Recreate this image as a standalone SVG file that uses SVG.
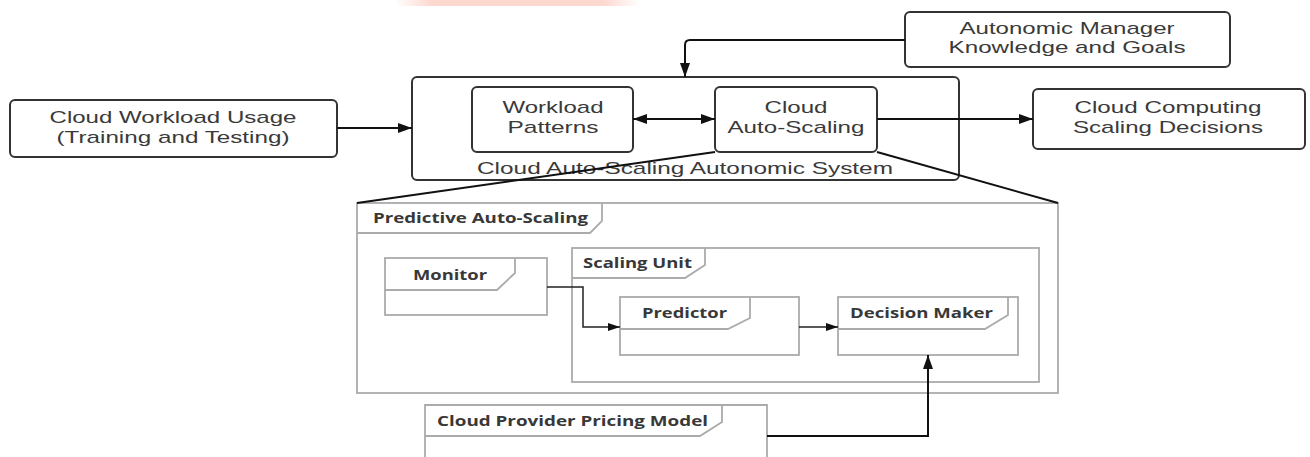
<svg xmlns="http://www.w3.org/2000/svg" width="1310" height="457" viewBox="0 0 1310 457">
  <style>
    .box { fill: #ffffff; stroke: #333333; stroke-width: 2; }
    .frame { fill: none; stroke: #ababab; stroke-width: 1.8; }
    .t { font-family: "Liberation Sans", Arial, sans-serif; font-size: 17px; fill: #3a3a3a; text-anchor: middle; }
    .b { font-family: "Open Sans", "Liberation Sans", sans-serif; font-size: 14px; font-weight: 700; fill: #383838; }
    .wire { fill: none; stroke: #111111; stroke-width: 2; }
    .thin { fill: none; stroke: #222222; stroke-width: 1.5; }
    .zoom { fill: none; stroke: #111111; stroke-width: 2; }
  </style>
  <defs>
    <marker id="arrow" viewBox="0 0 14 10" markerWidth="14" markerHeight="10" refX="14" refY="5" orient="auto-start-reverse" markerUnits="userSpaceOnUse">
      <path d="M0,0 L14,5 L0,10 z" fill="#111111"/>
    </marker>
    <marker id="arrowSm" viewBox="0 0 12 8" markerWidth="12" markerHeight="8" refX="12" refY="4" orient="auto-start-reverse" markerUnits="userSpaceOnUse">
      <path d="M0,0 L12,4 L0,8 z" fill="#111111"/>
    </marker>
    <linearGradient id="band" x1="0" y1="0" x2="1" y2="0">
      <stop offset="0" stop-color="#fdd8cf" stop-opacity="0"/>
      <stop offset="0.15" stop-color="#fdd8cf"/>
      <stop offset="0.85" stop-color="#fdd8cf"/>
      <stop offset="1" stop-color="#fdd8cf" stop-opacity="0"/>
    </linearGradient>
  </defs>

  <rect width="1310" height="457" fill="#ffffff"/>
  <!-- pale band along the top edge -->
  <rect x="395" y="0" width="245" height="6" fill="url(#band)"/>

  <!-- detail frame: Predictive Auto-Scaling -->
  <g id="predictive-auto-scaling">
    <rect class="frame" x="357" y="203" width="701" height="190"/>
    <path class="frame" d="M357,233 H590 L602,221 V203"/>
    <text class="b" x="373" y="223" textLength="215" lengthAdjust="spacingAndGlyphs">Predictive Auto-Scaling</text>
  </g>

  <g id="monitor">
    <rect class="frame" x="385" y="258" width="162" height="57"/>
    <path class="frame" d="M385,290 H497 L515,273 V258"/>
    <text class="b" x="413" y="280" textLength="74" lengthAdjust="spacingAndGlyphs">Monitor</text>
  </g>

  <g id="scaling-unit">
    <rect class="frame" x="572" y="248" width="467" height="134"/>
    <path class="frame" d="M572,278 H685 L705,265 V248"/>
    <text class="b" x="583" y="268" textLength="109" lengthAdjust="spacingAndGlyphs">Scaling Unit</text>
  </g>

  <g id="predictor">
    <rect class="frame" x="620" y="297" width="179" height="58"/>
    <path class="frame" d="M620,329 H728 L750,318 V297"/>
    <text class="b" x="642" y="318" textLength="85" lengthAdjust="spacingAndGlyphs">Predictor</text>
  </g>

  <g id="decision-maker">
    <rect class="frame" x="838" y="297" width="180" height="58"/>
    <path class="frame" d="M838,329 H985 L1008,315 V297"/>
    <text class="b" x="850" y="318" textLength="143" lengthAdjust="spacingAndGlyphs">Decision Maker</text>
  </g>

  <g id="pricing-model">
    <path class="frame" d="M425,460 V405 H767 V460"/>
    <path class="frame" d="M425,436 H700 L722,422 V405"/>
    <text class="b" x="437" y="426" textLength="271" lengthAdjust="spacingAndGlyphs">Cloud Provider Pricing Model</text>
  </g>

  <!-- outer system and its peers -->
  <g id="workload-usage">
    <rect class="box" x="10" y="100" width="327" height="57" rx="5"/>
    <text class="t" x="173" y="123" textLength="247" lengthAdjust="spacingAndGlyphs">Cloud Workload Usage</text>
    <text class="t" x="173" y="143" textLength="233" lengthAdjust="spacingAndGlyphs">(Training and Testing)</text>
  </g>

  <g id="autonomic-manager">
    <rect class="box" x="905" y="12" width="325" height="55" rx="5"/>
    <text class="t" x="1067" y="34" textLength="215" lengthAdjust="spacingAndGlyphs">Autonomic Manager</text>
    <text class="t" x="1067" y="53" textLength="237" lengthAdjust="spacingAndGlyphs">Knowledge and Goals</text>
  </g>

  <g id="scaling-decisions">
    <rect class="box" x="1033" y="89" width="272" height="60" rx="5"/>
    <text class="t" x="1168" y="113" textLength="187" lengthAdjust="spacingAndGlyphs">Cloud Computing</text>
    <text class="t" x="1168" y="133" textLength="190" lengthAdjust="spacingAndGlyphs">Scaling Decisions</text>
  </g>

  <g id="autonomic-system">
    <rect class="box" x="412" y="77" width="547" height="103" rx="5"/>
    <text class="t" x="685" y="174" textLength="416" lengthAdjust="spacingAndGlyphs">Cloud Auto-Scaling Autonomic System</text>
  </g>

  <g id="workload-patterns">
    <rect class="box" x="472" y="87" width="161" height="65" rx="5"/>
    <text class="t" x="553" y="113" textLength="101" lengthAdjust="spacingAndGlyphs">Workload</text>
    <text class="t" x="553" y="133" textLength="91" lengthAdjust="spacingAndGlyphs">Patterns</text>
  </g>

  <g id="cloud-auto-scaling">
    <rect class="box" x="715" y="87" width="162" height="65" rx="5"/>
    <text class="t" x="796" y="113" textLength="63" lengthAdjust="spacingAndGlyphs">Cloud</text>
    <text class="t" x="796" y="133" textLength="137" lengthAdjust="spacingAndGlyphs">Auto-Scaling</text>
  </g>

  <!-- connectors -->
  <g id="connectors">
    <path class="wire" d="M337,128 H412" marker-end="url(#arrow)"/>
    <path class="wire" d="M633,119 H715" marker-start="url(#arrow)" marker-end="url(#arrow)"/>
    <path class="wire" d="M877,119 H1033" marker-end="url(#arrow)"/>
    <path class="wire" d="M905,40 H690 Q685,40 685,45 V77" marker-end="url(#arrow)"/>
    <path class="thin" d="M547,287 H583 V327 H620" marker-end="url(#arrowSm)"/>
    <path class="thin" d="M799,327 H838" marker-end="url(#arrowSm)"/>
    <path class="wire" d="M767,436 H928 V355" marker-end="url(#arrow)"/>
    <!-- zoom-out lines from Cloud Auto-Scaling to its detail frame -->
    <path class="zoom" d="M715,152 L357,203"/>
    <path class="zoom" d="M877,152 L1058,203"/>
  </g>
</svg>
